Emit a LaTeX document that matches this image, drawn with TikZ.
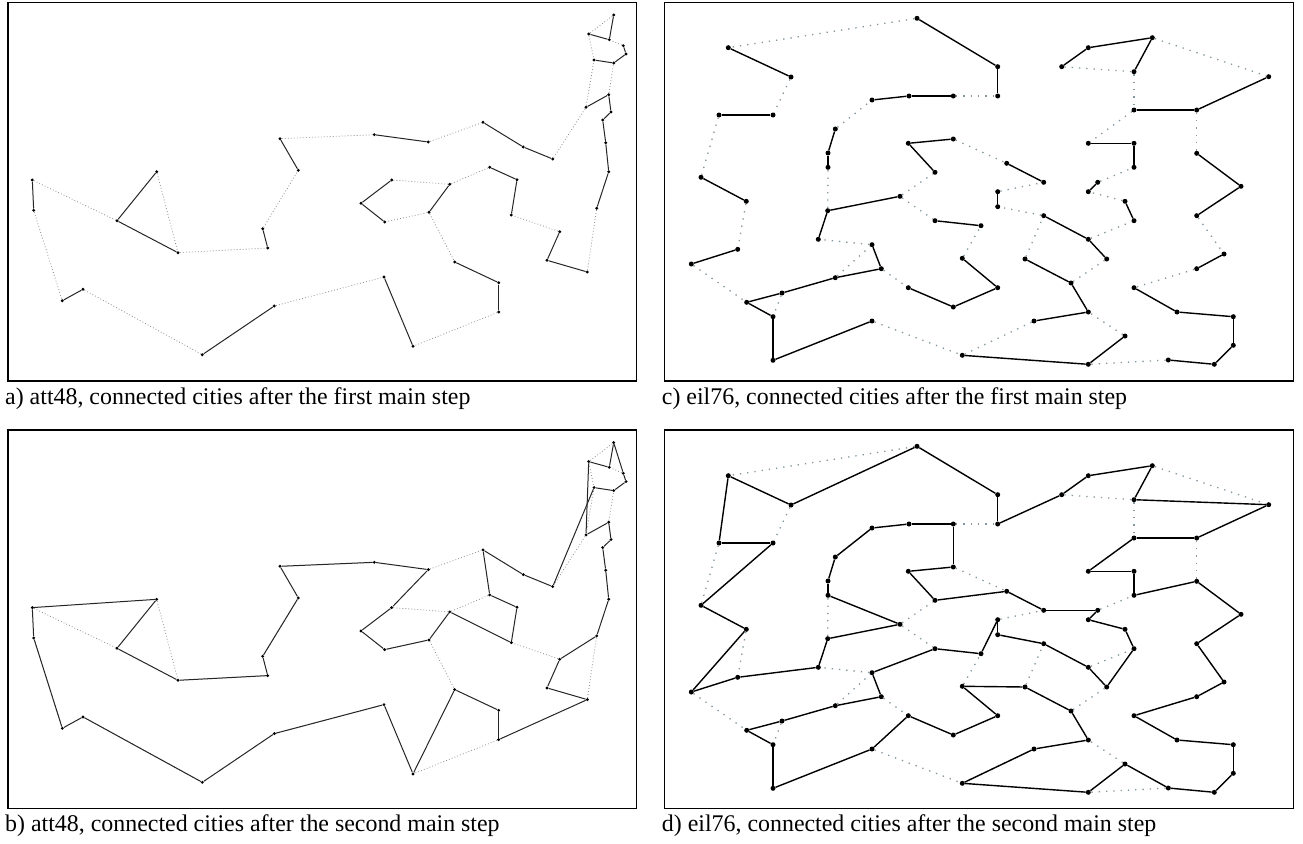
\documentclass[tikz,border=0pt]{standalone}
\usepackage{fontspec}
\setmainfont{Liberation Serif}
\definecolor{eilgrey}{RGB}{130,150,160}
\begin{document}
\def\attlist{P1/32.3/180, P2/33.7/210.3, P3/62.3/300.7, P4/83/289.3, P5/202.3/354.7, P6/274.3/306, P7/117/220.7, P8/156.7/171.7, P9/178/252.7, P10/267.7/248, P11/262.7/228.7, P12/298.3/170.3, P13/280/138.7, Q1/374.3/134.7, Q2/428.3/142, Q3/483/122.3, Q4/523.3/147, Q5/552.7/159, Q6/586/107.3, Q7/608.7/94.7, Q8/611/112, Q9/602.7/120, Q10/605.7/142.7, Q11/608.7/171.7, Q12/596.7/208.3, Q13/587.3/272, Q14/547/260.3, Q15/559.7/231.7, Q16/511.3/215, Q17/517/179.7, Q18/489.7/167.3, Q19/449.7/184.3, Q20/429/212.3, Q21/391.7/180, Q22/361/203.3, Q23/384.7/222, Q24/454.7/262, Q25/498.7/282.7, Q26/498.7/312, Q27/413/346.3, Q28/384/277, Q29/613.7/15, Q30/609.3/39.7, Q31/588.7/34, Q32/623.3/45.7, Q33/626/54, Q34/613.7/63, Q35/594/60}
\def\attdots{P1/P7, P2/P3, P4/P5, P8/P9, P9/P10, P11/P12, P13/Q1, P6/Q28, Q2/Q3, Q5/Q6, Q12/Q13, Q15/Q16, Q18/Q19, Q20/Q23, Q21/Q19, Q20/Q24, Q26/Q27, Q7/Q34, Q6/Q35, Q32/Q30, Q29/Q31, Q31/Q35}
\def\attsa{P1/P2, P3/P4, P5/P6, P7/P8, P7/P9, P10/P11, P12/P13, Q1/Q2, Q3/Q4, Q4/Q5, Q6/Q7, Q7/Q8, Q8/Q9, Q9/Q10, Q10/Q11, Q11/Q12, Q13/Q14, Q14/Q15, Q16/Q17, Q17/Q18, Q19/Q20, Q23/Q22, Q22/Q21, Q24/Q25, Q25/Q26, Q27/Q28, Q35/Q34, Q34/Q33, Q33/Q32, Q30/Q31, Q30/Q29}
\def\attsb{P6/P5, P5/P4, P4/P3, P3/P2, P2/P1, P1/P8, P8/P7, P7/P9, P9/P10, P10/P11, P11/P12, P12/P13, P13/Q1, Q1/Q2, Q2/Q21, Q21/Q22, Q22/Q23, Q23/Q20, Q20/Q19, Q19/Q16, Q16/Q17, Q17/Q18, Q18/Q3, Q3/Q4, Q4/Q5, Q5/Q35, Q35/Q34, Q34/Q33, Q33/Q32, Q32/Q29, Q29/Q30, Q30/Q31, Q31/Q6, Q6/Q7, Q7/Q8, Q8/Q9, Q9/Q10, Q10/Q11, Q11/Q12, Q12/Q15, Q15/Q14, Q14/Q13, Q13/Q26, Q26/Q25, Q25/Q24, Q24/Q27, Q27/Q28, Q28/P6}
\def\eillist{c1/917/18.3, c2/728.3/47.7, c3/791/77, c4/719/115, c5/773/115, c6/872/100, c7/909/96, c8/953.3/96, c9/835.3/129, c10/828/153, c11/828/167.3, c12/701/177.3, c13/746.3/201.3, c14/908.3/143.3, c15/953.3/139, c16/935/172.3, c17/900/196.3, c18/827.7/210.7, c19/818.3/239.3, c20/737.7/249.3, c21/691.3/264, c22/872/244.7, c23/881.3/268.7, c24/835.3/277.7, c25/782/293, c26/746.7/302.3, c27/773/316.7, c28/773/360.3, c29/872/321, c30/935/220.7, c31/908.3/287.7, c32/953.3/307, c33/962.3/258.3, c34/962.3/355.3, d1/997.7/66.7, d2/997.7/96, d3/1088.3/47.7, d4/1152.3/37.7, d5/1061.7/66.7, d6/1134/71.7, d7/1268.7/76.7, d8/1134/110, d9/1196.7/110, d10/1088.3/143.3, d11/1134/143.3, d12/1134/167.3, d13/1006.7/163.3, d14/1043.7/182.3, d15/997.7/191.7, d16/997.7/206.7, d17/1097.7/182.3, d18/1088.3/191.7, d19/1125/201.3, d20/1134/220.7, d21/1196.7/153.3, d22/1241/186.3, d23/1196.7/215.7, d24/1043.7/215.7, d25/1088.3/239.3, d26/1106.7/259, d27/981/225.7, d28/1025/259, d29/1071/283, d30/997.7/287.7, d31/1088.3/312, d32/1034/321, d33/1125/336, d34/1088.3/364.3, d35/1134/287.7, d36/1177/312, d37/1224/254, d38/1196.7/268.7, d39/1233.3/316.7, d40/1233.3/345.3, d41/1214.3/364.3, d42/1168.3/360}
\def\eildots{c1/c2, c3/c5, c4/c12, c13/c20, c21/c26, c25/c27, c24/c22, c22/c19, c18/c11, c9/c6, c8/d2, c15/d13, c17/c16, c17/c30, c23/c31, c29/c34, c33/d27, d5/d6, d4/d7, d6/d8, d8/d10, d9/d21, d23/d37, d38/d35, d42/d34, d33/d31, d32/c34, d28/d24, d29/d26, d25/d20, d24/d16, d15/d14, d19/d18, d17/d12}
\def\eilsc{c1/d1, c2/c3, c5/c4, c12/c13, c20/c21, c26/c25, c25/c24, c24/c23, c23/c22, c26/c27, c27/c28, c28/c29, c19/c18, c18/c17, c11/c10, c10/c9, c6/c7, c7/c8, c14/c15, c14/c16, c30/d27, c31/c32, c34/d34, c33/d30, c32/d30, d1/d2, d3/d4, d3/d5, d4/d6, d8/d9, d9/d7, d10/d11, d11/d12, d21/d22, d22/d23, d37/d38, d35/d36, d36/d39, d39/d40, d40/d41, d41/d42, d34/d33, d31/d32, d31/d29, d29/d28, d26/d25, d25/d24, d16/d15, d14/d13, d20/d19, d18/d17}
\def\eilsd{c1/c3, c1/d1, c2/c3, c2/c4, c4/c5, c5/c12, c12/c13, c13/c21, c21/c20, c20/c19, c19/c18, c18/c17, c17/c11, c11/c10, c10/c9, c9/c6, c6/c7, c7/c8, c8/c15, c15/c14, c14/c16, c16/d13, d13/d14, d14/d17, d17/d18, d18/d19, d19/d20, d20/d26, d26/d25, d25/d24, d24/d16, d16/d15, d15/d27, d27/c30, c30/c22, c22/c23, c23/c24, c24/c25, c25/c26, c26/c27, c27/c28, c28/c29, c29/c31, c31/c32, c32/d30, d30/c33, c33/d28, d28/d29, d29/d31, d31/d32, d32/c34, c34/d34, d34/d33, d33/d42, d42/d41, d41/d40, d40/d39, d39/d36, d36/d35, d35/d38, d38/d37, d37/d23, d23/d22, d22/d21, d21/d12, d12/d11, d11/d10, d10/d8, d8/d9, d9/d7, d7/d6, d6/d4, d4/d3, d3/d5, d5/d2, d2/d1}
\begin{tikzpicture}[x=1pt,y=-1pt,
  frame/.style={draw=black,line width=1.6pt},
  attcity/.style={circle,fill=black,inner sep=0pt,minimum size=3.2pt},
  eilcity/.style={circle,fill=black,inner sep=0pt,minimum size=5pt},
  attsolid/.style={draw=black!85,line width=1pt},
  attdot/.style={draw=black!45,line width=0.8pt,dash pattern=on 0.8pt off 2.2pt},
  eilsolid/.style={draw=black,line width=1.4pt},
  eildot/.style={draw=eilgrey,line width=1.3pt,dash pattern=on 1.3pt off 6pt},
  caption/.style={anchor=base west,inner sep=0pt,font=\fontsize{23.9}{28}\selectfont}]
\useasboundingbox (0,0) rectangle (1303,843);
\fill[white] (0,0) rectangle (1303,843);
% frames
\draw[frame] (8,2.5) rectangle (636.5,381);
\draw[frame] (664.3,2.5) rectangle (1293.3,381);
\draw[frame] (8,430) rectangle (636.5,808.5);
\draw[frame] (664.3,430) rectangle (1293.3,808.5);
% cities
\foreach \n/\px/\py in \attlist {\node[attcity] (a\n) at (\px,\py) {};}
\begin{scope}[shift={(0,427.6)}]
\foreach \n/\px/\py in \attlist {\node[attcity] (b\n) at (\px,\py) {};}
\end{scope}
\foreach \n/\px/\py in \eillist {\node[eilcity] (c\n) at (\px,\py) {};}
\begin{scope}[shift={(0,428)}]
\foreach \n/\px/\py in \eillist {\node[eilcity] (d\n) at (\px,\py) {};}
\end{scope}
% dotted edges
\foreach \u/\v in \attdots {\draw[attdot] (a\u) -- (a\v); \draw[attdot] (b\u) -- (b\v);}
\foreach \u/\v in \eildots {\draw[eildot] (c\u) -- (c\v); \draw[eildot] (d\u) -- (d\v);}
% solid edges
\foreach \u/\v in \attsa {\draw[attsolid] (a\u) -- (a\v);}
\foreach \u/\v in \attsb {\draw[attsolid] (b\u) -- (b\v);}
\foreach \u/\v in \eilsc {\draw[eilsolid] (c\u) -- (c\v);}
\foreach \u/\v in \eilsd {\draw[eilsolid] (d\u) -- (d\v);}
% captions
\node[caption] (capa) at (5,404) {a) att48, connected cities after the first main step};
\node[caption] (capc) at (661.7,404) {c) eil76, connected cities after the first main step};
\node[caption] (capb) at (5,831.5) {b) att48, connected cities after the second main step};
\node[caption] (capd) at (661.7,831.5) {d) eil76, connected cities after the second main step};
\end{tikzpicture}
\end{document}
